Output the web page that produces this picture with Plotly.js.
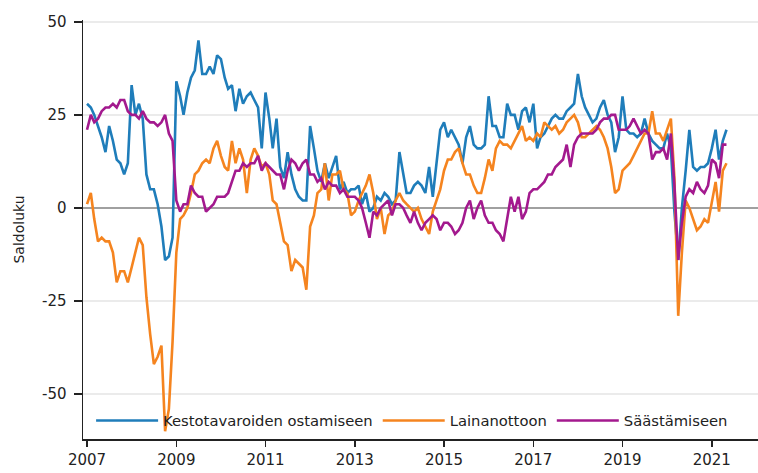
<!DOCTYPE html>
<html><head><meta charset="utf-8">
<script src="https://cdn.plot.ly/plotly-3.0.1.min.js"></script>
<style>html,body{margin:0;padding:0;background:#fff}#chart{width:758px;height:473px}</style>
</head><body><div id="chart"></div>
<script>
// Monthly balance figures (saldoluku), January 2007 – May 2021
const startYear = 2007;
const seriesNames = ['Kestotavaroiden ostamiseen', 'Lainanottoon', 'Säästämiseen'];
const seriesColors = ['#1f7dba', '#f5841f', '#a3198e'];

const kestotavarat = [
  28, 27, 25, 22, 19, 15, 22, 18, 13, 12, 9, 12,      // 2007
  33, 25, 28, 24, 9, 5, 5, 1, -5, -14, -13, -8,        // 2008
  34, 30, 25, 31, 35, 37, 45, 36, 36, 38, 36, 41,      // 2009
  40, 35, 32, 33, 26, 32, 28, 30, 31, 29, 27, 16,      // 2010
  31, 24, 16, 24, 11, 8, 15, 9, 5, 3, 2, 2,            // 2011
  22, 16, 10, 7, 12, 8, 11, 14, 5, 7, 4, 5,            // 2012
  5, 6, 1, 4, -1, 0, 3, 2, 4, 3, 1, 2,                 // 2013
  15, 9, 4, 4, 6, 7, 6, 4, 11, 3, 13, 21,              // 2014
  23, 19, 21, 19, 17, 12, 19, 22, 17, 16, 16, 17,      // 2015
  30, 22, 22, 19, 19, 28, 25, 25, 21, 26, 27, 23,      // 2016
  28, 16, 19, 20, 22, 24, 25, 24, 24, 26, 27, 28,      // 2017
  36, 30, 27, 25, 23, 24, 27, 29, 25, 23, 15, 19,      // 2018
  30, 21, 20, 20, 19, 20, 24, 20, 18, 17, 16, 16,      // 2019
  20, 16, -1, -14, 0, 10, 21, 11, 10, 11, 11, 12,      // 2020
  16, 21, 13, 18, 21                                   // 2021
];

const lainanotto = [
  1, 4, -3, -9, -8, -9, -9, -12, -20, -17, -17, -20,        // 2007
  -16, -12, -8, -10, -24, -34, -42, -40, -37, -60, -54, -36, // 2008
  -12, -3, -2, 0, 4, 9, 10, 12, 13, 12, 16, 18,             // 2009
  14, 11, 10, 18, 12, 16, 13, 4, 13, 16, 14, 11,            // 2010
  12, 9, 2, 1, -4, -9, -10, -17, -14, -15, -16, -22,        // 2011
  -5, -2, 4, 5, 12, 2, 9, 9, 10, 5, 4, -2,                  // 2012
  -1, 2, 4, 6, 9, 4, -3, 0, -7, -2, -1, 2,                  // 2013
  4, 2, 1, 0, -1, 0, -3, -5, -7, -1, 2, 5,                  // 2014
  10, 13, 13, 15, 16, 12, 9, 9, 6, 4, 4, 8,                 // 2015
  13, 10, 16, 18, 17, 17, 16, 18, 20, 22, 18, 19,           // 2016
  18, 20, 19, 23, 22, 21, 22, 20, 21, 23, 24, 25,           // 2017
  23, 19, 19, 20, 21, 22, 21, 19, 16, 11, 4, 5,             // 2018
  10, 11, 12, 14, 16, 18, 20, 20, 26, 20, 20, 18,           // 2019
  21, 24, 8, -29, -12, 2, 0, -3, -6, -5, -3, -4,            // 2020
  2, 7, -1, 10, 12                                          // 2021
];

const saastaminen = [
  21, 25, 23, 24, 26, 27, 27, 28, 27, 29, 29, 26,      // 2007
  25, 25, 24, 26, 24, 23, 23, 22, 23, 25, 20, 18,      // 2008
  2, -1, 1, 1, 6, 4, 3, 3, -1, 0, 1, 3,                // 2009
  3, 3, 4, 7, 10, 10, 12, 11, 12, 12, 14, 10,          // 2010
  12, 11, 10, 9, 9, 5, 10, 13, 12, 10, 12, 13,         // 2011
  9, 9, 7, 8, 5, 7, 6, 6, 4, 5, 3, 3,                  // 2012
  3, 2, 0, -4, -8, -1, -2, 0, 1, 2, -2, 1,             // 2013
  1, 0, -2, -4, -1, -4, -6, -4, -3, -2, -3, -6,        // 2014
  -4, -4, -5, -7, -6, -4, 0, 2, -3, 0, 2, -2,          // 2015
  -4, -4, -6, -7, -9, -3, 3, -1, 3, -3, -1, 4,         // 2016
  5, 5, 6, 7, 9, 9, 11, 12, 13, 17, 11, 17,            // 2017
  19, 20, 20, 20, 20, 21, 23, 24, 24, 25, 25, 21,      // 2018
  21, 21, 22, 24, 22, 20, 21, 20, 13, 15, 15, 16,      // 2019
  13, 20, 6, -14, -4, 3, 5, 4, 7, 5, 4, 6,             // 2020
  13, 12, 8, 17, 17                                    // 2021
];

const yTickValues = [-50, -25, 0, 25, 50];

const months = kestotavarat.map((_, i) => {
  const y = startYear + Math.floor(i / 12);
  const m = (i % 12) + 1;
  return y + '-' + String(m).padStart(2, '0') + '-01';
});

const allSeries = [kestotavarat, lainanotto, saastaminen];
const traces = allSeries.map((vals, k) => ({
  type: 'scatter', mode: 'lines',
  x: months, y: vals, name: seriesNames[k],
  line: {color: seriesColors[k], width: 2.6, shape: 'linear'},
  hoverinfo: 'skip'
}));

const font = 'DejaVu Sans, Verdana, sans-serif';
const layout = {
  width: 758, height: 473,
  margin: {l: 83, r: 0, t: 20, b: 34, pad: 0},
  paper_bgcolor: '#ffffff', plot_bgcolor: '#ffffff',
  font: {family: font, size: 14, color: '#222'},
  showlegend: true,
  legend: {
    orientation: 'h', x: 0.012, xanchor: 'left', y: 0.043, yanchor: 'middle',
    bgcolor: 'rgba(0,0,0,0)', font: {family: font, size: 14.75, color: '#222'},
    itemwidth: 62, traceorder: 'normal', itemclick: false
  },
  xaxis: {
    type: 'date', range: ['2006-11-29', '2022-01-14'],
    tick0: '2007-01-01', dtick: 'M24', tickformat: '%Y',
    ticks: 'outside', ticklen: 6, tickwidth: 1.5, tickcolor: '#222',
    showline: true, linecolor: '#222', linewidth: 1.5,
    showgrid: false, zeroline: false,
    tickfont: {family: font, size: 15, color: '#222'}
  },
  yaxis: {
    range: [-62.1, 50.5], tickvals: yTickValues, ticktext: yTickValues.map(String),
    ticks: 'outside', ticklen: 8, tickwidth: 1.5, tickcolor: '#222',
    showline: true, linecolor: '#222', linewidth: 1.5,
    showgrid: true, gridcolor: '#ebebeb', gridwidth: 2,
    zeroline: true, zerolinecolor: '#a0a0a0', zerolinewidth: 2.5,
    ticklabelstandoff: 4,
    tickfont: {family: font, size: 15, color: '#222'},
    title: {text: 'Saldoluku', font: {family: font, size: 14, color: '#222'}, standoff: 14}
  }
};

Plotly.newPlot('chart', traces, layout, {staticPlot: true, displayModeBar: false});
</script>
</body></html>
